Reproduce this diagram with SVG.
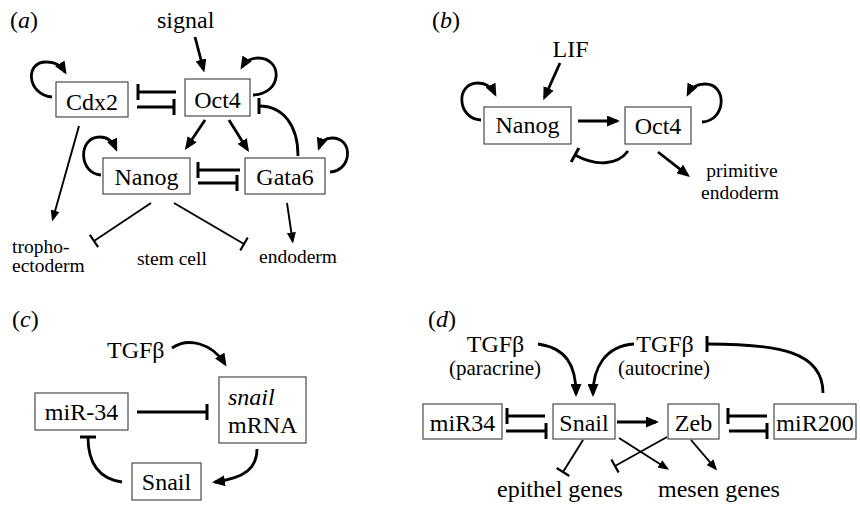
<svg xmlns="http://www.w3.org/2000/svg" width="860" height="508" viewBox="0 0 860 508">
<defs>
<style>
text{font-family:"Liberation Serif","Times New Roman",serif;fill:#000}
.t{font-size:24px}
.tm{font-size:24px;text-anchor:middle}
.s{font-size:19.5px}
.sm{font-size:19.5px;text-anchor:middle}
.p{font-size:21px;text-anchor:middle}
.box{fill:#fff;stroke:#4a4a4a;stroke-width:1.2}
.a{fill:none;stroke:#000;stroke-width:2.8;marker-end:url(#ah)}
.i{fill:none;stroke:#000;stroke-width:2.8;marker-end:url(#bar)}
.as{fill:none;stroke:#000;stroke-width:1.9;marker-end:url(#ahs)}
.is{fill:none;stroke:#000;stroke-width:1.9;marker-end:url(#bars)}
</style>
<marker id="ah" markerUnits="userSpaceOnUse" viewBox="0 0 13 11" markerWidth="13" markerHeight="11" refX="10" refY="5.5" orient="auto"><path d="M0,0 L13,5.5 L0,11 z" fill="#000"/></marker>
<marker id="ahs" markerUnits="userSpaceOnUse" viewBox="0 0 11 9" markerWidth="11" markerHeight="9" refX="8.5" refY="4.5" orient="auto"><path d="M0,0 L11,4.5 L0,9 z" fill="#000"/></marker>
<marker id="bar" markerUnits="userSpaceOnUse" viewBox="0 0 4 16" markerWidth="4" markerHeight="16" refX="2" refY="8" orient="auto"><rect x="0.5" y="0" width="3" height="16" fill="#000"/></marker>
<marker id="bars" markerUnits="userSpaceOnUse" viewBox="0 0 4 15" markerWidth="4" markerHeight="15" refX="2" refY="7.5" orient="auto"><rect x="0.9" y="0" width="2.2" height="15" fill="#000"/></marker>
</defs>

<!-- panel labels and free texts -->
<g id="labels">
<text class="t" x="10" y="28">(<tspan font-style="italic">a</tspan>)</text>
<text class="t" x="432" y="28">(<tspan font-style="italic">b</tspan>)</text>
<text class="t" x="12" y="327">(<tspan font-style="italic">c</tspan>)</text>
<text class="t" x="428" y="327">(<tspan font-style="italic">d</tspan>)</text>
<text class="t" x="157" y="28">signal</text>
<text class="s" x="12" y="253">tropho-</text>
<text class="s" x="12" y="272">ectoderm</text>
<text class="s" x="137" y="265">stem cell</text>
<text class="s" x="259" y="263">endoderm</text>
<text class="tm" x="570.5" y="57">LIF</text>
<text class="sm" x="742" y="177">primitive</text>
<text class="sm" x="740" y="199">endoderm</text>
<text class="t" x="107" y="358">TGFβ</text>
<text class="tm" x="495.5" y="352">TGFβ</text>
<text class="p" x="495" y="375">(paracrine)</text>
<text class="tm" x="665" y="352">TGFβ</text>
<text class="p" x="664" y="375">(autocrine)</text>
<text class="t" x="497" y="497">epithel genes</text>
<text class="t" x="658" y="497">mesen genes</text>
</g>

<!-- panel a nodes -->
<g id="a-cdx2"><rect class="box" x="56" y="82" width="72" height="35"/><text class="tm" x="92" y="110">Cdx2</text></g>
<g id="a-oct4"><rect class="box" x="185" y="79" width="65" height="37"/><text class="tm" x="217.5" y="108">Oct4</text></g>
<g id="a-nanog"><rect class="box" x="103" y="158" width="87" height="36"/><text class="tm" x="146.5" y="185">Nanog</text></g>
<g id="a-gata6"><rect class="box" x="245" y="158" width="80" height="36"/><text class="tm" x="285" y="185">Gata6</text></g>

<!-- panel b nodes -->
<g id="b-nanog"><rect class="box" x="484" y="107" width="87" height="37"/><text class="tm" x="527.5" y="133">Nanog</text></g>
<g id="b-oct4"><rect class="box" x="625" y="107" width="66" height="37"/><text class="tm" x="658" y="134">Oct4</text></g>

<!-- panel c nodes -->
<g id="c-mir34"><rect class="box" x="35" y="393" width="93" height="37"/><text class="tm" x="81.5" y="420">miR-34</text></g>
<g id="c-snailmrna"><rect class="box" x="219" y="377" width="87" height="66"/><text class="t" x="228" y="405" font-style="italic">snail</text><text class="t" x="228" y="433">mRNA</text></g>
<g id="c-snail"><rect class="box" x="132" y="463" width="69" height="37"/><text class="tm" x="166.5" y="490">Snail</text></g>

<!-- panel d nodes -->
<g id="d-mir34"><rect class="box" x="423" y="404" width="79" height="35"/><text class="tm" x="462.5" y="430.5">miR34</text></g>
<g id="d-snail"><rect class="box" x="553" y="404" width="62" height="35"/><text class="tm" x="584" y="430.5">Snail</text></g>
<g id="d-zeb"><rect class="box" x="668" y="404" width="51" height="35"/><text class="tm" x="693.5" y="430.5">Zeb</text></g>
<g id="d-mir200"><rect class="box" x="774" y="404" width="82" height="35"/><text class="tm" x="815" y="430.5">miR200</text></g>

<g id="connectors">
<!-- panel a -->
<path class="a" d="M195,37 L203.5,69.5"/>
<path class="a" d="M52,97 C27,95 24,61 47,62 C56,62 62,67 65,72"/>
<path class="a" d="M253,95 C283,94 283,58 258,58 C250,58 245,62 242,67"/>
<path class="a" d="M101,175 C79,174 77,137 100,137 C108,137 113,142 116,149"/>
<path class="a" d="M330,172 C352,171 354,138 332,138 C325,138 321,142 319,148"/>
<path class="i" d="M176,92 L138,92"/>
<path class="i" d="M137,107 L174,107"/>
<path class="a" d="M205,120 L186.6,147.5"/>
<path class="a" d="M229,120 L247.4,149.5"/>
<path class="i" d="M298,156 C298,125 283,106 259,106"/>
<path class="i" d="M240,170 L198,170"/>
<path class="i" d="M198,183 L237,183"/>
<path class="as" d="M79,126 L52.8,219"/>
<path class="is" d="M151,203 L94,241"/>
<path class="is" d="M174,203 L244,244"/>
<path class="as" d="M287,203 L292.6,241"/>
<!-- panel b -->
<path class="a" d="M560,63 L544.5,97.5"/>
<path class="a" d="M481,120 C457,119 455,83 478,83 C487,83 492,88 495,94"/>
<path class="a" d="M702,122 C726,121 728,84 705,84 C697,84 691,88 688,94"/>
<path class="a" d="M578,121 L617,121"/>
<path class="i" d="M628,151 C617,166 595,166 575,155"/>
<path class="a" d="M658,152 L687.6,175.1"/>
<!-- panel c -->
<path class="a" d="M172,348 C188,337 212,343 225,364"/>
<path class="i" d="M137,412 L207,412"/>
<path class="a" d="M257,449 C257,468 245,478 215,482"/>
<path class="i" d="M122,482 C100,479 88,465 88,437"/>
<!-- panel d -->
<path class="a" d="M538,344 C566,348 576,365 576,394"/>
<path class="a" d="M634,344 C605,346 593,368 593,394"/>
<path class="i" d="M823,393 C823,352 780,344 707,344"/>
<path class="i" d="M545,416 L507,416"/>
<path class="i" d="M506,431 L546,431"/>
<path class="a" d="M617,422 L656,422"/>
<path class="i" d="M767,416 L728,416"/>
<path class="i" d="M729,431 L767,431"/>
<path class="is" d="M583,440 L563,472"/>
<path class="as" d="M619,438 L667,468.5"/>
<path class="is" d="M667,437 L615,466"/>
<path class="as" d="M691,440 L715.5,468.6"/>
</g>
</svg>
